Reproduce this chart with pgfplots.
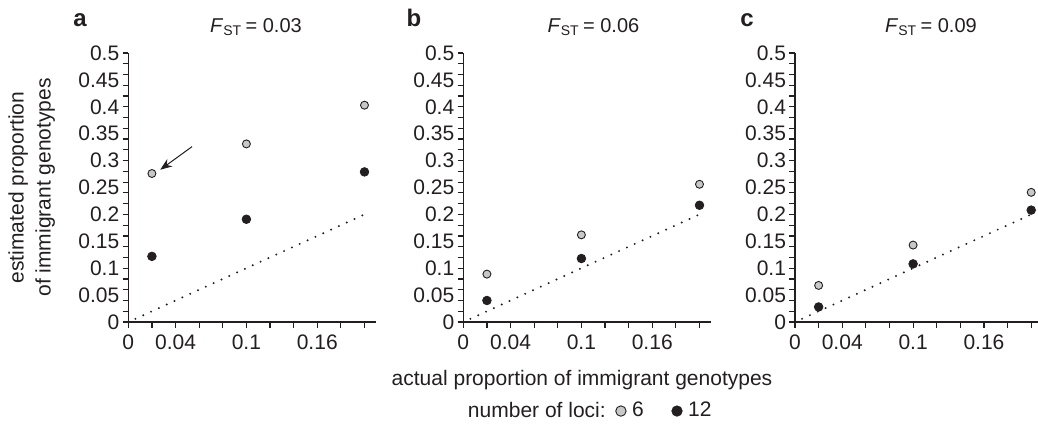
\documentclass[border=0pt]{standalone}
\usepackage{fontspec}
\setmainfont{Liberation Sans}
\usepackage{pgfplots}
\pgfplotsset{compat=1.18}
\usetikzlibrary{arrows.meta}

\definecolor{ink}{RGB}{35,31,32}
\definecolor{pale}{RGB}{200,200,200}

\pgfplotsset{
  panel/.style={
    scale only axis, width=124pt, height=134.5pt,
    anchor=origin,
    xmin=0, xmax=0.21, ymin=0, ymax=0.5,
    clip=false,
    axis lines=left,
    axis line style={-, line width=0.8pt, ink},
    every tick/.style={line width=0.6pt, ink},
    tick align=outside, tick pos=left,
    major tick length=2.8pt,
    /pgf/number format/assume math mode=true,
    ticklabel style={font=\fontsize{10.5}{12}\selectfont, text=ink},
    xtick={0,0.02,0.04,0.06,0.08,0.1,0.12,0.14,0.16,0.18,0.2},
    xticklabels={0,,0.04,,,0.1,,,0.16,,},
    ytick={0,0.02,0.04,0.06,0.08,0.1,0.12,0.14,0.16,0.18,0.2,0.22,0.24,0.26,0.28,0.3,0.32,0.34,0.36,0.38,0.4,0.42,0.44,0.46,0.48,0.5},
    yticklabels={},
    extra y ticks={0,0.05,0.1,0.15,0.2,0.25,0.3,0.35,0.4,0.45,0.5},
    extra y tick labels={0,0.05,0.1,0.15,0.2,0.25,0.3,0.35,0.4,0.45,0.5},
    extra y tick style={major tick length=0pt},
    yticklabel style={xshift=-1pt},
  },
  six/.style={only marks, mark=*, mark size=2pt,
    mark options={fill=pale, draw=ink, line width=0.45pt}},
  twelve/.style={only marks, mark=*, mark size=2.15pt,
    mark options={fill=ink, draw=ink}},
  diag/.style={ink, line width=1.1pt, line cap=round,
    dash pattern=on 0pt off 4.3pt},
}

\begin{document}
\begin{tikzpicture}
\path[use as bounding box] (0,0) rectangle (519pt,220pt);

% panel a, FST = 0.03
\begin{axis}[panel, name=pa, at={(64.15pt,59pt)}]
\addplot[diag, forget plot] coordinates {(0.006,0.006) (0.2,0.2)};
\addplot[six] coordinates {(0.02,0.276) (0.1,0.331) (0.2,0.403)};
\addplot[twelve] coordinates {(0.02,0.122) (0.1,0.191) (0.2,0.279)};
\draw[ink, line width=0.5pt, -{Stealth[length=6pt, width=4.5pt]}]
  (axis cs:0.054,0.326) -- (axis cs:0.027,0.283);
\end{axis}

% panel b, FST = 0.06
\begin{axis}[panel, name=pb, at={(231.65pt,59pt)},
  legend style={at={(0.51,-0.331)}, anchor=center, draw=none, fill=none,
    font=\fontsize{10.5}{12}\selectfont, text=ink,
    /tikz/every even column/.append style={column sep=11pt},
    nodes={inner sep=1.5pt, inner xsep=3pt}},
  legend columns=-1,
  legend image post style={mark size=2.6pt},
  legend cell align=left]
\addlegendimage{empty legend}
\addlegendentry{number of loci:\hspace*{-9pt}}
\addplot[diag, forget plot] coordinates {(0.006,0.006) (0.2,0.2)};
\addplot[six] coordinates {(0.02,0.089) (0.1,0.162) (0.2,0.256)};
\addlegendentry{6}
\addplot[twelve] coordinates {(0.02,0.040) (0.1,0.118) (0.2,0.217)};
\addlegendentry{12}
\end{axis}

% panel c, FST = 0.09
\begin{axis}[panel, name=pc, at={(397.5pt,59pt)}]
\addplot[diag, forget plot] coordinates {(0.006,0.006) (0.2,0.2)};
\addplot[six] coordinates {(0.02,0.068) (0.1,0.143) (0.2,0.241)};
\addplot[twelve] coordinates {(0.02,0.028) (0.1,0.108) (0.2,0.208)};
\end{axis}

\node[anchor=base, font=\fontsize{12}{14}\selectfont\bfseries, text=ink] at (40pt,206.5pt) {a};
\node[anchor=base, font=\fontsize{12}{14}\selectfont\bfseries, text=ink] at (207pt,206.5pt) {b};
\node[anchor=base, font=\fontsize{12}{14}\selectfont\bfseries, text=ink] at (373.5pt,206.5pt) {c};

\node[anchor=base, font=\fontsize{10}{12}\selectfont, text=ink] at (128pt,203.5pt) {\textit{F}\textsubscript{ST}\,= 0.03};
\node[anchor=base, font=\fontsize{10}{12}\selectfont, text=ink] at (296.75pt,203.5pt) {\textit{F}\textsubscript{ST}\,= 0.06};
\node[anchor=base, font=\fontsize{10}{12}\selectfont, text=ink] at (465.5pt,203.5pt) {\textit{F}\textsubscript{ST}\,= 0.09};

\node[rotate=90, anchor=south, align=center, inner sep=0pt,
  font=\fontsize{10.5}{13.5}\selectfont, text=ink]
  at ([xshift=-36.5pt]pa.west) {estimated proportion\\of immigrant genotypes};
\node[anchor=base, font=\fontsize{10.5}{13}\selectfont, text=ink] at (291pt,27.5pt) {actual proportion of immigrant genotypes};
\end{tikzpicture}
\end{document}
